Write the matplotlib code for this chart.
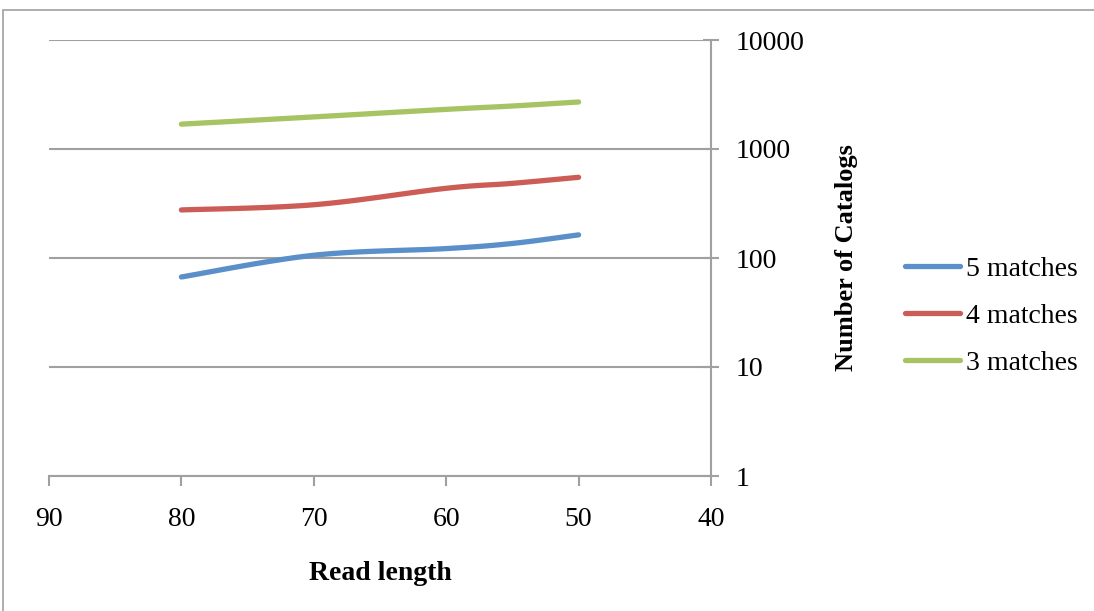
import numpy as np
import matplotlib.pyplot as plt
from matplotlib.patches import Rectangle

# read length on x, catalogs on log y
read_len = [80, 70, 60, 55, 50]
m5 = [67, 106, 122, 136, 163]
m4 = [276, 308, 436, 484, 550]
m3 = [1690, 1970, 2310, 2480, 2700]

labels = ['5 matches', '4 matches', '3 matches']
colors = ['#5A8FC9', '#CB5D56', '#A6C464']


def smooth(x, y, n=30):
    # excel-like smoothed line (bezier through points, in log space)
    x = np.asarray(x, float)
    ly = np.log10(np.asarray(y, float))
    px = np.concatenate([[x[0]], x, [x[-1]]])
    py = np.concatenate([[ly[0]], ly, [ly[-1]]])
    xs, ys = [], []
    t = np.linspace(0, 1, n)
    for i in range(1, len(px) - 2):
        p0 = np.array([px[i], py[i]])
        p3 = np.array([px[i + 1], py[i + 1]])
        p1 = p0 + (np.array([px[i + 1], py[i + 1]]) - np.array([px[i - 1], py[i - 1]])) / 6
        p2 = p3 - (np.array([px[i + 2], py[i + 2]]) - np.array([px[i], py[i]])) / 6
        b = ((1 - t)[:, None] ** 3 * p0 + 3 * ((1 - t) ** 2 * t)[:, None] * p1
             + 3 * ((1 - t) * t ** 2)[:, None] * p2 + (t ** 3)[:, None] * p3)
        xs.extend(b[:, 0])
        ys.extend(b[:, 1])
    return np.array(xs), 10 ** np.array(ys)


plt.rcParams['font.family'] = ['Liberation Serif', 'DejaVu Serif']
fig = plt.figure(figsize=(10.94, 6.11), dpi=100)
ax = fig.add_axes([49 / 1094, 1 - 476 / 611, (711 - 49) / 1094, (476 - 40) / 611])

for yv, lab, c in zip([m5, m4, m3], labels, colors):
    sx, sy = smooth(read_len, yv)
    ax.plot(sx, sy, color=c, lw=3.8, solid_capstyle='round', label=lab)

ax.set_yscale('log')
ax.set_ylim(1, 10000)
ax.set_xlim(90, 40)
ax.set_xticks([90, 80, 70, 60, 50, 40])
ax.set_yticks([1, 10, 100, 1000, 10000])
ax.set_yticklabels(['1', '10', '100', '1000', '10000'])
ax.minorticks_off()
ax.yaxis.tick_right()
ax.yaxis.set_label_position('right')
ax.grid(axis='y', color='#a0a0a0', lw=1.5)
for s in ['top', 'left']:
    ax.spines[s].set_visible(False)
for s in ['bottom', 'right']:
    ax.spines[s].set_color('#a0a0a0')
    ax.spines[s].set_linewidth(1.5)
ax.tick_params(axis='x', color='#a0a0a0', width=1.5, length=7, labelsize=20, pad=15)
ax.tick_params(axis='y', color='#a0a0a0', width=1.5, length=12, direction='inout',
               labelsize=20, pad=12)
ax.set_xlabel('Read length', fontsize=20, fontweight='bold', labelpad=21)
ax.set_ylabel('Number of Catalogs', fontsize=19, fontweight='bold', labelpad=22)

ax.legend(loc='center left', bbox_to_anchor=(1.255, 0.367), frameon=False, fontsize=20,
          handlelength=2.0, handletextpad=0.2, labelspacing=0.78)

fig.patches.append(Rectangle((3 / 1094, -0.1), 1.2, 1 - 10 / 611 + 0.1,
                             transform=fig.transFigure, fill=False,
                             edgecolor='#a0a0a0', lw=1.2))

fig.savefig('out.png', dpi=100)
